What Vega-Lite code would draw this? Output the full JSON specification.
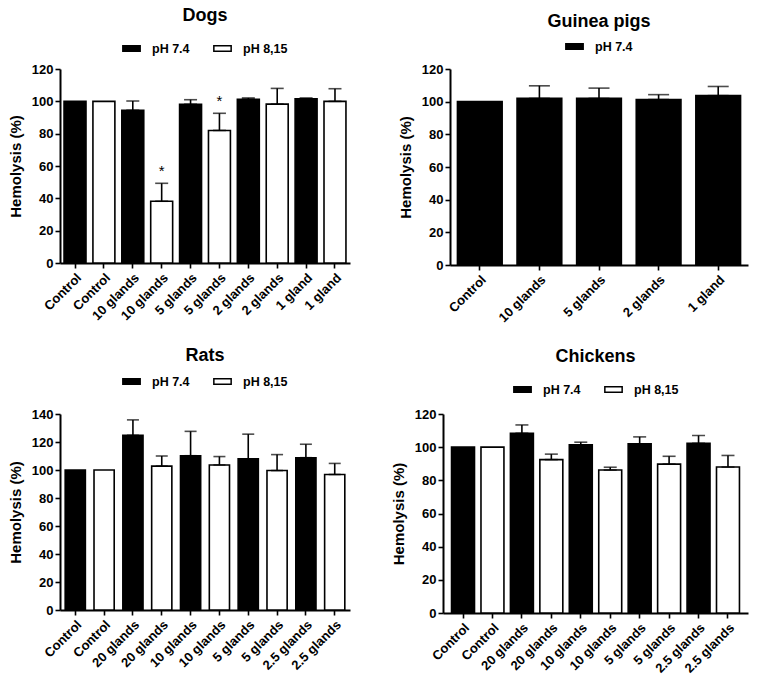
{
  "$schema": "https://vega.github.io/schema/vega-lite/v6.json",
  "background": "white",
  "padding": {"left": 8, "top": 7, "right": 5, "bottom": 5},
  "datasets": {
    "dogs": [
      {"id": "01|Control", "ph": "pH 7.4", "value": 100, "upper": null, "sig": null},
      {"id": "02|Control", "ph": "pH 8,15", "value": 100, "upper": null, "sig": null},
      {"id": "03|10 glands", "ph": "pH 7.4", "value": 94.5, "upper": 100.2, "sig": null},
      {"id": "04|10 glands", "ph": "pH 8,15", "value": 38.2, "upper": 49.3, "sig": "*"},
      {"id": "05|5 glands", "ph": "pH 7.4", "value": 98.2, "upper": 101, "sig": null},
      {"id": "06|5 glands", "ph": "pH 8,15", "value": 82, "upper": 92.6, "sig": "*"},
      {"id": "07|2 glands", "ph": "pH 7.4", "value": 101.3, "upper": 102.1, "sig": null},
      {"id": "08|2 glands", "ph": "pH 8,15", "value": 98.3, "upper": 108, "sig": null},
      {"id": "09|1 gland", "ph": "pH 7.4", "value": 101.5, "upper": 102.1, "sig": null},
      {"id": "10|1 gland", "ph": "pH 8,15", "value": 100, "upper": 107.8, "sig": null}
    ],
    "guinea": [
      {"id": "01|Control", "ph": "pH 7.4", "value": 100, "upper": null},
      {"id": "02|10 glands", "ph": "pH 7.4", "value": 102, "upper": 109.7},
      {"id": "03|5 glands", "ph": "pH 7.4", "value": 102, "upper": 108.3},
      {"id": "04|2 glands", "ph": "pH 7.4", "value": 101.3, "upper": 104.3},
      {"id": "05|1 gland", "ph": "pH 7.4", "value": 103.7, "upper": 109.3}
    ],
    "rats": [
      {"id": "01|Control", "ph": "pH 7.4", "value": 100, "upper": null},
      {"id": "02|Control", "ph": "pH 8,15", "value": 100, "upper": null},
      {"id": "03|20 glands", "ph": "pH 7.4", "value": 124.8, "upper": 135.8},
      {"id": "04|20 glands", "ph": "pH 8,15", "value": 102.8, "upper": 110},
      {"id": "05|10 glands", "ph": "pH 7.4", "value": 110.2, "upper": 127.6},
      {"id": "06|10 glands", "ph": "pH 8,15", "value": 103.6, "upper": 109.6},
      {"id": "07|5 glands", "ph": "pH 7.4", "value": 108, "upper": 125.6},
      {"id": "08|5 glands", "ph": "pH 8,15", "value": 99.6, "upper": 111},
      {"id": "09|2.5 glands", "ph": "pH 7.4", "value": 108.8, "upper": 118.4},
      {"id": "10|2.5 glands", "ph": "pH 8,15", "value": 96.8, "upper": 104.7}
    ],
    "chickens": [
      {"id": "01|Control", "ph": "pH 7.4", "value": 100, "upper": null},
      {"id": "02|Control", "ph": "pH 8,15", "value": 100, "upper": null},
      {"id": "03|20 glands", "ph": "pH 7.4", "value": 108.4, "upper": 113.4},
      {"id": "04|20 glands", "ph": "pH 8,15", "value": 92.5, "upper": 95.8},
      {"id": "05|10 glands", "ph": "pH 7.4", "value": 101.4, "upper": 103},
      {"id": "06|10 glands", "ph": "pH 8,15", "value": 86.2, "upper": 87.9},
      {"id": "07|5 glands", "ph": "pH 7.4", "value": 102, "upper": 106.2},
      {"id": "08|5 glands", "ph": "pH 8,15", "value": 89.8, "upper": 94.5},
      {"id": "09|2.5 glands", "ph": "pH 7.4", "value": 102.3, "upper": 107},
      {"id": "10|2.5 glands", "ph": "pH 8,15", "value": 88, "upper": 95}
    ]
  },
  "vconcat": [
    {
      "hconcat": [
        {
          "title": {"text": "Dogs", "offset": 14},
          "data": {"name": "dogs"},
          "width": 290,
          "height": 194,
          "encoding": {
            "x": {"field": "id", "type": "nominal", "sort": null, "title": null,
              "scale": {"paddingInner": 0, "paddingOuter": 0.02},
              "axis": {"labelExpr": "split(datum.value, '|')[1]"}},
            "y": {"field": "value", "type": "quantitative", "title": "Hemolysis (%)",
              "scale": {"domain": [0, 120], "nice": false},
              "axis": {"values": [0, 20, 40, 60, 80, 100, 120], "labelOverlap": false, "tickCount": 7}}
          },
          "layer": [
            {
              "mark": {"type": "bar", "stroke": "black", "strokeWidth": 1.6, "width": {"band": 0.76}},
              "encoding": {
                "fill": {"field": "ph", "type": "nominal", "title": null,
                  "scale": {"domain": ["pH 7.4", "pH 8,15"], "range": ["black", "white"]},
                  "legend": {"offset": 14}}
              }
            },
            {
              "transform": [{"filter": "isValid(datum.upper)"}],
              "mark": {"type": "errorbar", "color": "black", "thickness": 1.6, "ticks": {"size": 13, "thickness": 1.6, "color": "black"}},
              "encoding": {"y2": {"field": "upper"}}
            },
            {
              "transform": [{"filter": "isValid(datum.sig)"}],
              "mark": {"type": "text", "fontSize": 15, "baseline": "middle", "dy": -12, "color": "black"},
              "encoding": {"y": {"field": "upper", "type": "quantitative", "axis": {"values": [0, 20, 40, 60, 80, 100, 120], "labelOverlap": false, "tickCount": 7}}, "text": {"field": "sig"}}
            }
          ]
        },
        {
          "title": {"text": "Guinea pigs", "offset": 6},
          "data": {"name": "guinea"},
          "width": 298,
          "height": 196,
          "encoding": {
            "x": {"field": "id", "type": "nominal", "sort": null, "title": null,
              "scale": {"paddingInner": 0, "paddingOuter": 0.0},
              "axis": {"labelExpr": "split(datum.value, '|')[1]"}},
            "y": {"field": "value", "type": "quantitative", "title": "Hemolysis (%)",
              "scale": {"domain": [0, 120], "nice": false},
              "axis": {"values": [0, 20, 40, 60, 80, 100, 120], "labelOverlap": false, "tickCount": 7}}
          },
          "layer": [
            {
              "mark": {"type": "bar", "stroke": "black", "strokeWidth": 1.6, "width": {"band": 0.75}},
              "encoding": {
                "fill": {"field": "ph", "type": "nominal", "title": null,
                  "scale": {"domain": ["pH 7.4"], "range": ["black"]},
                  "legend": {"offset": 16}}
              }
            },
            {
              "transform": [{"filter": "isValid(datum.upper)"}],
              "mark": {"type": "errorbar", "color": "black", "thickness": 1.6, "ticks": {"size": 21, "thickness": 1.6, "color": "black"}},
              "encoding": {"y2": {"field": "upper"}}
            }
          ]
        }
      ],
      "spacing": 48,
      "resolve": {"scale": {"fill": "independent"}, "legend": {"fill": "independent"}}
    },
    {
      "hconcat": [
        {
          "title": {"text": "Rats", "offset": 7},
          "data": {"name": "rats"},
          "width": 290,
          "height": 196,
          "encoding": {
            "x": {"field": "id", "type": "nominal", "sort": null, "title": null,
              "scale": {"paddingInner": 0, "paddingOuter": 0.03},
              "axis": {"labelExpr": "split(datum.value, '|')[1]"}},
            "y": {"field": "value", "type": "quantitative", "title": "Hemolysis (%)",
              "scale": {"domain": [0, 140], "nice": false},
              "axis": {"values": [0, 20, 40, 60, 80, 100, 120, 140], "labelOverlap": false, "tickCount": 8}}
          },
          "layer": [
            {
              "mark": {"type": "bar", "stroke": "black", "strokeWidth": 1.6, "width": {"band": 0.7}},
              "encoding": {
                "fill": {"field": "ph", "type": "nominal", "title": null,
                  "scale": {"domain": ["pH 7.4", "pH 8,15"], "range": ["black", "white"]},
                  "legend": {"offset": 26}}
              }
            },
            {
              "transform": [{"filter": "isValid(datum.upper)"}],
              "mark": {"type": "errorbar", "color": "black", "thickness": 1.6, "ticks": {"size": 12, "thickness": 1.6, "color": "black"}},
              "encoding": {"y2": {"field": "upper"}}
            }
          ]
        },
        {
          "title": {"text": "Chickens", "offset": 14},
          "data": {"name": "chickens"},
          "width": 305,
          "height": 199,
          "encoding": {
            "x": {"field": "id", "type": "nominal", "sort": null, "title": null,
              "scale": {"paddingInner": 0, "paddingOuter": 0.18},
              "axis": {"labelExpr": "split(datum.value, '|')[1]"}},
            "y": {"field": "value", "type": "quantitative", "title": "Hemolysis (%)",
              "scale": {"domain": [0, 120], "nice": false},
              "axis": {"values": [0, 20, 40, 60, 80, 100, 120], "labelOverlap": false, "tickCount": 7}}
          },
          "layer": [
            {
              "mark": {"type": "bar", "stroke": "black", "strokeWidth": 1.6, "width": {"band": 0.78}},
              "encoding": {
                "fill": {"field": "ph", "type": "nominal", "title": null,
                  "scale": {"domain": ["pH 7.4", "pH 8,15"], "range": ["black", "white"]},
                  "legend": {"offset": 18}}
              }
            },
            {
              "transform": [{"filter": "isValid(datum.upper)"}],
              "mark": {"type": "errorbar", "color": "black", "thickness": 1.6, "ticks": {"size": 13, "thickness": 1.6, "color": "black"}},
              "encoding": {"y2": {"field": "upper"}}
            }
          ]
        }
      ],
      "spacing": 41,
      "resolve": {"scale": {"fill": "independent"}, "legend": {"fill": "independent"}}
    }
  ],
  "spacing": 22,
  "resolve": {"scale": {"fill": "independent"}, "legend": {"fill": "independent"}},
  "config": {
    "font": "Liberation Sans",
    "view": {"stroke": null},
    "axis": {
      "grid": false,
      "domainColor": "black",
      "domainWidth": 2,
      "tickColor": "black",
      "tickWidth": 1.6,
      "tickSize": 5,
      "labelColor": "black",
      "labelFont": "Liberation Sans",
      "labelFontWeight": "bold",
      "labelFontSize": 13,
      "titleColor": "black",
      "titleFont": "Liberation Sans",
      "titleFontWeight": "bold",
      "titleFontSize": 15,
      "titlePadding": 8
    },
    "axisX": {"labelAngle": -45, "labelPadding": 3},
    "axisY": {"labelPadding": 2, "labelOverlap": false},
    "axisQuantitative": {"labelOverlap": false},
    "title": {"fontSize": 18, "fontWeight": "bold", "color": "black", "anchor": "middle", "font": "Liberation Sans"},
    "legend": {
      "orient": "top",
      "direction": "horizontal",
      "labelFont": "Liberation Sans",
      "labelFontSize": 12.5,
      "labelFontWeight": "bold",
      "labelColor": "black",
      "symbolType": "M-1,-0.33L1,-0.33L1,0.33L-1,0.33Z",
      "symbolSize": 300,
      "symbolStrokeColor": "black",
      "symbolStrokeWidth": 1.5,
      "symbolOpacity": 1,
      "columnPadding": 20,
      "labelOffset": 11,
      "layout": {"top": {"anchor": "middle"}}
    }
  }
}
